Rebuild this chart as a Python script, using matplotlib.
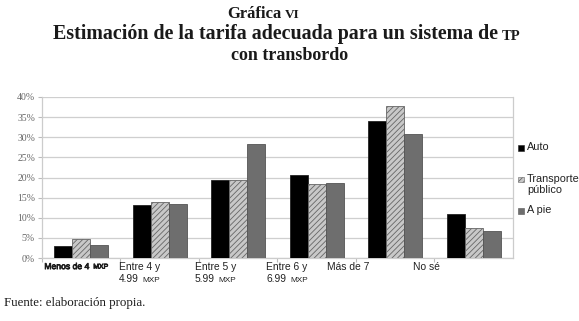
import matplotlib.pyplot as plt
import matplotlib.transforms as mtransforms
import matplotlib.patheffects as pe
from matplotlib.patches import Rectangle
import numpy as np

plt.rcParams['hatch.linewidth'] = 0.6

# datos
categorias = ['Menos de 4 MXP', 'Entre 4 y\n4.99 MXP', 'Entre 5 y\n5.99 MXP',
              'Entre 6 y\n6.99 MXP', 'Más de 7', 'No sé']
auto = [3.1, 13.2, 19.5, 20.6, 34.1, 10.9]
transporte = [4.8, 13.9, 19.3, 18.3, 37.8, 7.5]
a_pie = [3.2, 13.5, 28.3, 18.7, 30.8, 6.6]
series = ['Auto', 'Transporte\npúblico', 'A pie']
yticks = [0, 5, 10, 15, 20, 25, 30, 35, 40]

colores = ['black', '#c8c8c8', '#6e6e6e']
bordes = ['#222222', '#666666', '#555555']
tramas = [None, '//////', None]

fig = plt.figure(figsize=(5.79, 3.21), dpi=100)
ax = fig.add_axes([0.0725, 0.196, 0.8135, 0.502])

x = np.arange(len(categorias))
width = 0.23
for k, vals in enumerate([auto, transporte, a_pie]):
    ax.bar(x + (k - 1) * width, vals, width, color=colores[k], edgecolor=bordes[k],
           hatch=tramas[k], linewidth=0.6, zorder=3)

ax.set_xlim(-0.5, len(categorias) - 0.5)
ax.set_ylim(0, 40)
ax.set_yticks(yticks)
ax.set_yticklabels(['%d%%' % v for v in yticks], family='Liberation Serif',
                   fontsize=7, color='#666666')
ax.yaxis.grid(True, color='#cfcfcf', linewidth=0.9, zorder=0)
ax.tick_params(axis='y', length=3, color='#bbbbbb', pad=2)
ax.set_xticks(x - 0.5)
ax.set_xticklabels([])
ax.tick_params(axis='x', length=3, color='#bbbbbb', direction='out')
for s in ['left', 'right', 'bottom']:
    ax.spines[s].set_color('#cccccc')
    ax.spines[s].set_linewidth(0.9)
ax.spines['top'].set_visible(False)

# etiquetas del eje x (con versalitas para MXP)
desp = [-0.47, -0.52, -0.55, -0.64, -0.87, -0.78]
trans = mtransforms.blended_transform_factory(ax.transData, ax.transAxes)
for i, lab in enumerate(categorias):
    for j, linea in enumerate(lab.split('\n')):
        fs = 6.2 if i == 0 else 7.4
        efecto = [pe.withStroke(linewidth=0.5, foreground='#111111')] if i == 0 else None
        sc = None
        if linea.endswith(' MXP'):
            linea, sc = linea[:-4], 'MXP'
        t = ax.text(i + desp[i], -0.025 - j * 0.075, linea, transform=trans,
                    ha='left', va='top', family='Liberation Sans', fontsize=fs,
                    color='#222222', path_effects=efecto)
        if sc:
            ax.annotate(sc, xy=(1, 0), xycoords=t, xytext=(2.5, 0.4),
                        textcoords='offset points', ha='left', va='bottom',
                        family='Liberation Sans', fontsize=fs * 0.8,
                        color='#222222', path_effects=efecto)

# leyenda manual
ley_y = [148, 180, 211]
for k, nombre in enumerate(series):
    yy = 1 - ley_y[k] / 321
    fig.patches.append(Rectangle((518 / 579, yy - 2.5 / 321), 5.5 / 579, 5.5 / 321,
                                 transform=fig.transFigure, facecolor=colores[k],
                                 edgecolor=bordes[k], hatch=tramas[k], linewidth=0.4))
    fig.text(527 / 579, yy + 6 / 321, nombre, ha='left', va='top',
             family='Liberation Sans', fontsize=7.8, color='#222222', linespacing=1.1)

# titulo
tit = dict(family='Liberation Serif', weight='bold', color='#1a1a1a', va='baseline')
fig.text(282 / 579, 1 - 18.5 / 321, 'Gráfica', ha='right', fontsize=12, **tit)
fig.text(285 / 579, 1 - 18.5 / 321, 'VI', ha='left', fontsize=9.5, **tit)
fig.text(498 / 579, 1 - 39.5 / 321, 'Estimación de la tarifa adecuada para un sistema de',
         ha='right', fontsize=14.4, **tit)
fig.text(502 / 579, 1 - 39.5 / 321, 'TP', ha='left', fontsize=10.5, **tit)
fig.text(0.5, 1 - 60.5 / 321, 'con transbordo', ha='center', fontsize=13, **tit)

fig.text(4 / 579, 1 - 303 / 321, 'Fuente: elaboración propia.', ha='left', va='center',
         family='Liberation Serif', fontsize=9.3, color='#1a1a1a')

plt.savefig('out.png', dpi=100)
